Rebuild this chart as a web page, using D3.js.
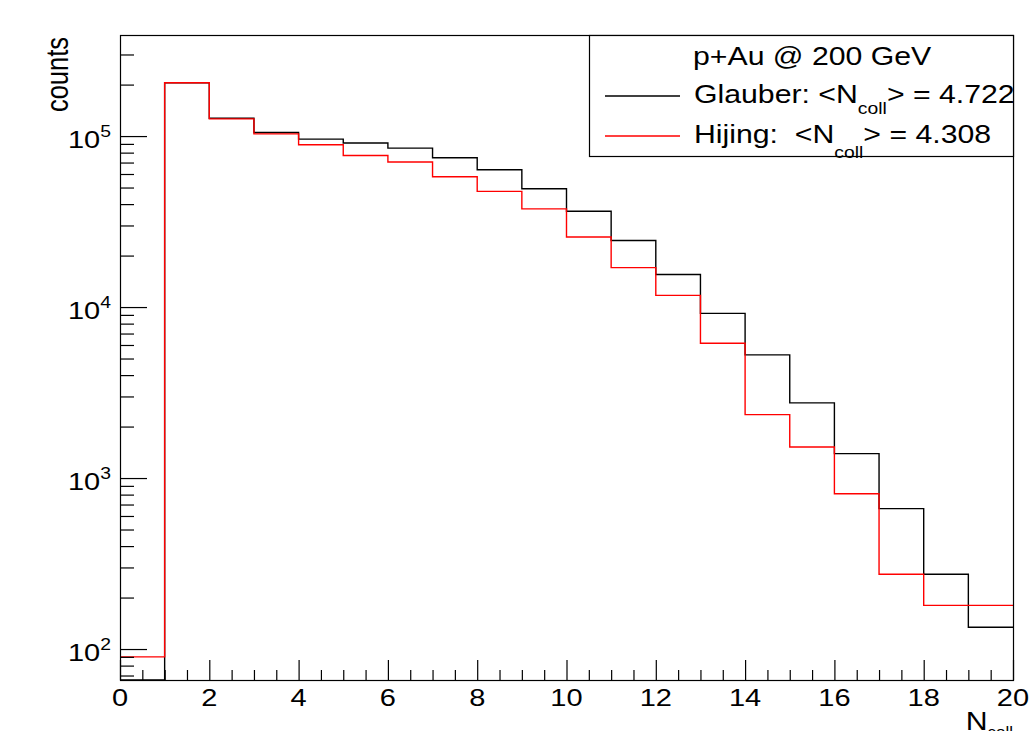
<!DOCTYPE html>
<html>
<head>
<meta charset="utf-8">
<script src="https://cdn.jsdelivr.net/npm/d3@7"></script>
<style>
  html, body { margin: 0; padding: 0; background: #fff; }
  svg { display: block; }
  text { font-family: "Liberation Sans", Arial, Helvetica, sans-serif; fill: #000; }
</style>
</head>
<body>
<svg id="chart" width="1030" height="731"></svg>
<script>
// ---- data ----
const binEdges = d3.range(0, 21);              // N_coll bin edges 0..20
const glauberCounts = [0, 205000, 127000, 105000, 96000, 91000, 85000, 74700, 63500, 49200,
                       36300, 24500, 15500, 9190, 5250, 2750, 1390, 662, 274, 134];
const hijingCounts  = [90, 205000, 126000, 103000, 89000, 77000, 70500, 57800, 47500, 37500,
                       25700, 17000, 11700, 6140, 2350, 1520, 809, 274, 180, 180];
const xTickLabels = [0, 2, 4, 6, 8, 10, 12, 14, 16, 18, 20];
const yTickExponents = [2, 3, 4, 5];
const legendTitle = "p+Au @ 200 GeV";
const legendEntries = [
  { pre: "Glauber: <N", sub: "coll", post: "> = 4.722", color: "#000000", subDy: 10.7 },
  { pre: "Hijing:\u00a0 <N", sub: "coll", post: "> = 4.308", color: "#ff0000", subDy: 15 }
];

// ---- layout ----
const L = 120, R = 1013, T = 35, B = 680;
const SX = 1.21; // horizontal stretch of the reference text
const svg = d3.select("#chart");

const x = d3.scaleLinear().domain([0, 20]).range([L, R]);
const yMin = 65.9, yMax = 3.9e5;
const y = d3.scaleLog().domain([yMin, yMax]).range([B, T]);

// clip
svg.append("defs").append("clipPath").attr("id", "frameClip")
  .append("rect").attr("x", L).attr("y", T).attr("width", R - L).attr("height", B - T);

// ---- histograms ----
function stepPoints(counts) {
  const pts = [];
  counts.forEach((v, i) => {
    const yv = y(Math.max(v, yMin));
    pts.push([x(binEdges[i]), yv]);
    pts.push([x(binEdges[i + 1]), yv]);
  });
  return pts;
}
const line = d3.line();
const hg = svg.append("g").attr("clip-path", "url(#frameClip)");
hg.append("path").attr("d", line(stepPoints(glauberCounts)))
  .attr("fill", "none").attr("stroke", "#000").attr("stroke-width", 1.4);
hg.append("path").attr("d", line(stepPoints(hijingCounts)))
  .attr("fill", "none").attr("stroke", "#ff0000").attr("stroke-width", 1.4);

// ---- axes (ticks inside) ----
const xMajor = xTickLabels;
const xMinor = d3.range(0, 20.001, 0.5).filter(v => v % 2 !== 0);
const gxMinor = svg.append("g").attr("transform", `translate(0,${B})`)
  .call(d3.axisBottom(x).tickValues(xMinor).tickSize(-10).tickSizeOuter(0).tickFormat(""));
const gxMajor = svg.append("g").attr("transform", `translate(0,${B})`)
  .call(d3.axisBottom(x).tickValues(xMajor).tickSize(-20).tickSizeOuter(0).tickFormat(""));

const yMajor = yTickExponents.map(e => Math.pow(10, e));
const yMinor = [];
for (let e = 1; e <= 5; e++) for (let k = 2; k <= 9; k++) {
  const v = k * Math.pow(10, e);
  if (v >= yMin && v <= yMax) yMinor.push(v);
}
const gyMinor = svg.append("g").attr("transform", `translate(${L},0)`)
  .call(d3.axisLeft(y).tickValues(yMinor).tickSize(-14).tickSizeOuter(0).tickFormat(""));
const gyMajor = svg.append("g").attr("transform", `translate(${L},0)`)
  .call(d3.axisLeft(y).tickValues(yMajor).tickSize(-27).tickSizeOuter(0).tickFormat(""));
[gxMinor, gxMajor, gyMinor, gyMajor].forEach(g => {
  g.select(".domain").remove();
  g.selectAll(".tick line").attr("stroke", "#000").attr("stroke-width", 1.2);
});

// frame
svg.append("rect").attr("x", L + 0.5).attr("y", T + 0.5)
  .attr("width", R - L).attr("height", B - T)
  .attr("fill", "none").attr("stroke", "#000").attr("stroke-width", 1.2);

// x tick labels
svg.append("g").selectAll("text").data(xTickLabels).join("text")
  .attr("transform", d => `translate(${x(d)},706) scale(${SX},1)`)
  .attr("text-anchor", "middle").attr("font-size", 24)
  .text(d => d);

// y tick labels 10^n
const yl = svg.append("g").selectAll("text").data(yTickExponents).join("text")
  .attr("transform", d => `translate(111,${y(Math.pow(10, d)) + 12}) scale(${SX},1)`)
  .attr("text-anchor", "end").attr("font-size", 24);
yl.append("tspan").text("10");
yl.append("tspan").attr("font-size", 16).attr("dy", -11).text(d => d);

// axis titles
svg.append("text")
  .attr("transform", `translate(68,37) scale(${SX},1) rotate(-90)`)
  .attr("text-anchor", "end").attr("font-size", 25.5).text("counts");
const xt = svg.append("text")
  .attr("transform", `translate(1013,729.5) scale(${SX},1)`)
  .attr("text-anchor", "end").attr("font-size", 25);
xt.append("tspan").text("N");
xt.append("tspan").attr("font-size", 14).attr("dy", 7).text("coll");

// ---- legend ----
const lg = svg.append("g");
lg.append("rect").attr("x", 589.5).attr("y", 35.5).attr("width", 424).attr("height", 121)
  .attr("fill", "#fff").attr("stroke", "#000").attr("stroke-width", 1.2);
lg.append("text").attr("transform", `translate(693,65) scale(${SX},1)`)
  .attr("font-size", 25).text(legendTitle);
const rowBase = [103.3, 143.3];
const rowLine = [96, 136];
legendEntries.forEach((e, i) => {
  lg.append("line").attr("x1", 605).attr("x2", 680)
    .attr("y1", rowLine[i]).attr("y2", rowLine[i])
    .attr("stroke", e.color).attr("stroke-width", 1.4);
  const t = lg.append("text").attr("transform", `translate(694,${rowBase[i]}) scale(${SX},1)`)
    .attr("font-size", 25);
  t.append("tspan").text(e.pre);
  t.append("tspan").attr("font-size", 16).attr("dy", e.subDy).text(e.sub);
  t.append("tspan").attr("dy", -e.subDy).text(e.post);
});
</script>
</body>
</html>
